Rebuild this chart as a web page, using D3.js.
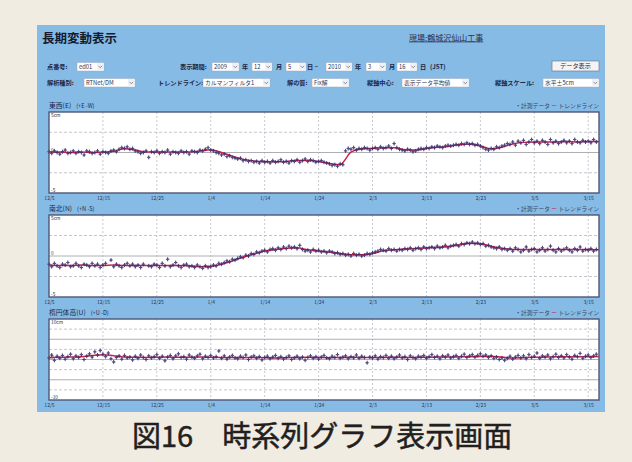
<!DOCTYPE html>
<html>
<head>
<meta charset="utf-8">
<script src="https://cdn.jsdelivr.net/npm/d3@7/dist/d3.min.js"></script>
<style>
  html, body { margin: 0; padding: 0; background: #f0ece2; }
  svg { display: block; }
  text { font-family: "Noto Sans CJK JP", "Noto Sans", sans-serif; }
</style>
</head>
<body>
<svg id="chart" width="632" height="462"></svg>
<script>
// ---- data ---------------------------------------------------------------
// Tick labels on the time axis (every 10 days)
const tickLabels = ["12/5","12/15","12/25","1/4","1/14","1/24","2/3","2/13","2/23","3/5","3/15"];

// Measured displacement (cm), one value every 12 hours from 2009-12-05 00:00
const eastWest = [
  0.1,-0.1,0.2,0.0,-0.2,0.1,0.3,-0.1,0.0,0.2,
  -0.1,0.1,0.0,-0.3,0.2,0.1,-0.1,0.0,0.2,-0.2,
  0.1,0.0,-0.1,0.2,0.3,0.1,0.4,0.6,0.5,0.7,
  0.4,0.5,0.2,0.1,-0.1,0.0,0.2,-0.6,0.1,0.0,
  0.2,-0.1,0.1,0.0,0.3,-0.2,0.1,0.0,-0.1,0.2,
  0.0,0.1,-0.2,0.2,0.1,0.0,0.3,0.2,0.4,0.6,
  0.3,0.2,0.0,-0.1,-0.3,-0.2,-0.5,-0.4,-0.6,-0.7,
  -0.8,-0.7,-1.0,-0.9,-1.1,-1.0,-1.2,-1.1,-1.3,-1.0,
  -1.2,-1.1,-1.3,-1.0,-1.2,-1.1,-0.9,-1.2,-1.1,-1.3,
  -1.0,-1.1,-0.9,-1.2,-1.0,-0.8,-1.1,-0.9,-1.0,-1.2,
  -1.1,-1.0,-1.2,-1.3,-1.4,-1.6,-1.5,-1.7,-1.4,-1.5,
  0.2,0.5,0.4,0.6,0.3,0.5,0.4,0.6,0.5,0.3,
  0.5,0.6,0.4,0.7,0.5,0.6,0.8,0.5,1.1,0.6,
  0.4,0.3,0.2,0.4,0.3,0.1,0.2,0.4,0.5,0.4,
  0.6,0.5,0.7,0.6,0.8,0.7,0.6,0.8,0.9,0.8,
  0.9,1.0,0.9,1.1,1.0,1.2,1.0,1.1,0.9,1.0,
  0.8,0.6,0.4,0.3,0.5,0.4,0.7,0.6,0.8,0.9,
  1.1,1.0,1.3,0.9,1.4,1.2,1.5,1.0,1.3,1.6,
  1.2,1.4,1.1,1.5,1.3,1.0,1.6,1.2,1.4,1.1,
  1.3,1.5,1.2,1.4,1.1,1.6,1.3,1.2,1.5,1.3,
  1.4,1.2,1.6,1.3
];
const northSouth = [
  -1.0,-1.3,-0.9,-1.2,-1.4,-1.0,-1.1,-0.8,-1.3,-1.2,
  -0.9,-1.2,-1.4,-1.0,-1.1,-1.3,-0.9,-1.2,-1.0,-1.4,
  -1.1,-0.9,null,-0.5,-1.3,-1.0,-1.2,-1.4,-1.1,-0.9,
  -1.2,-1.0,-1.3,-1.1,-1.4,-1.0,null,-1.2,-1.3,-1.0,
  -1.1,-1.4,-0.9,-1.2,-0.4,-1.3,-1.1,-0.8,-1.2,-1.4,
  -1.1,-1.0,-1.3,-1.2,-1.4,-1.1,-1.3,-1.5,-1.2,-1.4,
  -1.3,-1.1,-1.2,-0.9,-1.0,-0.8,-0.6,-0.7,-0.4,-0.5,
  -0.3,-0.1,-0.2,0.1,0.0,0.3,0.2,0.5,0.4,0.6,
  0.7,0.5,0.8,0.9,0.7,1.0,0.8,1.1,0.9,1.2,
  1.0,1.1,0.9,1.3,0.8,0.6,0.7,0.5,0.8,0.6,
  0.7,0.5,0.6,0.4,0.6,0.5,0.3,0.4,0.2,0.3,
  0.1,0.2,0.0,0.3,0.1,0.2,0.0,0.1,0.3,0.2,
  0.4,0.5,0.6,0.8,0.7,0.6,0.9,0.7,0.8,0.6,
  0.8,0.7,0.9,0.8,1.0,0.7,0.9,1.0,0.8,1.1,
  0.9,1.0,1.1,0.9,1.2,1.0,1.1,1.3,1.0,1.2,
  1.3,1.4,1.2,1.5,1.4,1.6,1.5,1.7,1.5,1.6,
  1.4,1.5,1.2,1.3,1.1,1.0,0.9,1.1,0.8,0.9,
  0.7,0.9,0.6,1.0,0.8,0.5,0.7,1.1,0.6,0.8,
  0.9,0.5,0.7,1.0,0.6,0.8,1.2,0.7,0.5,0.9,
  0.6,0.8,1.0,0.7,0.5,0.9,0.7,1.1,0.6,0.8,
  0.7,0.9,0.6,0.8
];
const upDown = [
  0.4,1.1,-0.2,0.8,0.3,1.0,0.1,0.7,1.3,0.2,
  0.9,0.5,1.2,0.0,0.8,1.4,0.6,1.9,1.1,2.2,
  1.3,0.7,1.6,0.2,-0.6,0.5,0.9,0.1,1.0,0.4,
  0.6,-0.1,0.8,0.3,1.1,0.5,0.0,0.9,0.4,0.7,
  1.2,0.3,0.8,-0.3,0.6,1.0,0.2,0.9,1.4,0.5,
  0.7,0.1,1.1,0.6,0.3,0.9,1.3,0.2,0.8,0.5,
  1.0,0.4,0.7,2.1,0.3,0.9,0.1,0.6,1.0,0.4,
  0.2,0.8,0.5,1.1,0.0,0.6,0.9,0.3,0.7,-0.1,
  0.5,0.8,0.2,0.6,1.0,0.3,0.7,0.1,0.5,0.9,
  0.0,0.4,0.8,0.2,0.6,-0.2,0.5,0.9,0.3,0.7,
  0.1,0.6,1.0,0.4,0.2,0.8,0.5,1.2,0.3,0.6,
  0.9,0.2,0.7,0.4,1.1,0.3,0.8,0.5,-0.8,0.6,
  0.4,0.9,0.1,0.7,0.5,1.0,0.3,0.8,0.2,0.6,
  1.1,0.4,0.7,0.0,0.9,0.5,0.2,0.8,0.6,1.0,
  0.3,0.7,1.2,0.5,0.8,0.2,0.9,0.6,1.1,0.4,
  0.7,1.0,0.3,0.8,1.3,0.5,0.9,1.2,0.6,1.0,
  1.4,0.8,1.1,0.5,0.9,0.3,0.6,0.0,0.4,-0.2,
  0.3,0.8,0.1,0.6,1.0,0.4,0.9,0.2,1.2,0.5,
  0.8,1.6,0.3,0.9,0.6,1.1,0.2,0.7,1.3,0.5,
  0.9,0.4,1.2,0.6,0.1,1.0,0.7,1.5,0.3,0.8,
  1.1,0.5,0.9,1.3
];

// Trend line (Kalman filter output), one value every 2 days from 2009-12-05
const trendEW = [
  0.05,0.05,0.0,0.05,0.0,0.05,0.15,0.45,0.3,0.05,
  0.05,0.05,0.05,0.05,0.2,0.35,0.0,-0.45,-0.85,-1.05,
  -1.15,-1.15,-1.1,-1.0,-1.0,-1.1,-1.35,-1.5,0.05,0.45,
  0.5,0.6,0.6,0.35,0.3,0.5,0.65,0.75,0.95,1.05,
  0.8,0.45,0.65,1.05,1.25,1.3,1.3,1.3,1.35,1.3,
  1.35,1.35
];
const trendNS = [
  -1.1,-1.15,-1.15,-1.1,-1.15,-1.15,-1.1,-1.15,-1.15,-1.15,
  -1.15,-1.15,-1.15,-1.2,-1.3,-1.25,-1.0,-0.6,-0.15,0.25,
  0.6,0.8,0.95,1.0,0.75,0.6,0.5,0.3,0.15,0.15,
  0.3,0.65,0.75,0.85,0.9,1.0,1.05,1.15,1.35,1.55,
  1.5,1.2,0.95,0.8,0.8,0.8,0.8,0.8,0.8,0.8,
  0.8,0.75
];
const trendUD = [
  0.5,0.55,0.6,0.7,1.0,1.2,0.9,0.6,0.55,0.5,
  0.55,0.6,0.55,0.55,0.6,0.55,0.5,0.5,0.45,0.5,
  0.45,0.4,0.45,0.5,0.55,0.5,0.45,0.5,0.55,0.5,
  0.5,0.5,0.55,0.5,0.5,0.55,0.6,0.6,0.65,0.7,
  0.75,0.8,0.6,0.35,0.45,0.55,0.6,0.65,0.7,0.7,
  0.7,0.75
];

// Panel titles, axis spans and printed scale labels
const panelTitles = ["東西(E)", "南北(N)", "楕円体高(U)"];
const panelSigns  = ["(+E -W)", "(+N -S)", "(+U -D)"];
const panelRanges = [5, 5, 10];
const panelTopLabels = ["5cm", "5cm", "10cm"];
const panelBottomLabels = ["-5", "-5", "-10"];

// ---- layout ---------------------------------------------------------------
const svg = d3.select("#chart");
const start = new Date(2009, 11, 5);
const end = new Date(2010, 2, 17);
const x = d3.scaleTime().domain([start, end]).range([49, 599]);
const tickDates = tickLabels.map(s => {
  const [m, d] = s.split("/").map(Number);
  return new Date(m >= 10 ? 2009 : 2010, m - 1, d);
});

const ink = "#1d2747";
const small = 6.2;

// outer blue window
svg.append("rect").attr("x", 37).attr("y", 25).attr("width", 568).attr("height", 387)
  .attr("fill", "#86bbe5");

// heading
svg.append("text").attr("x", 42).attr("y", 43).attr("font-size", 12.5)
  .attr("font-weight", 700).attr("fill", "#151b2e").text("長期変動表示");
svg.append("text").attr("x", 409).attr("y", 40.5).attr("font-size", 8)
  .attr("fill", "#26304f").attr("text-decoration", "underline").text("現場:鶴城沢仙山工事");

// form controls
function label(xp, yp, t) {
  svg.append("text").attr("x", xp).attr("y", yp).attr("font-size", small)
    .attr("font-weight", 700).attr("fill", ink).text(t);
}
function select(xp, yp, w, t) {
  const g = svg.append("g").attr("transform", `translate(${xp},${yp - 6.5})`);
  g.append("rect").attr("width", w).attr("height", 8.5).attr("fill", "#fff")
    .attr("stroke", "#9aaac0").attr("stroke-width", 0.5);
  g.append("rect").attr("x", w - 7).attr("y", 0.5).attr("width", 6.5).attr("height", 7.5)
    .attr("fill", "#eef1f6");
  g.append("path").attr("d", `M${w - 5.5},3.3L${w - 3.7},5.3L${w - 1.9},3.3`)
    .attr("fill", "none").attr("stroke", "#6b7896").attr("stroke-width", 0.8);
  g.append("text").attr("x", 2).attr("y", 6.3).attr("font-size", 5.8)
    .attr("fill", "#2a3350").text(t);
}

const r1 = 69, r2 = 85;
label(47, r1, "点番号:");
select(77, r1, 27, "ed01");
label(180, r1, "表示期間:");
select(212, r1, 27, "2009"); label(242, r1, "年");
select(252, r1, 20, "12");   label(276, r1, "月");
select(286, r1, 20, "5");    label(307, r1, "日 ~");
select(326, r1, 26, "2010"); label(355, r1, "年");
select(366, r1, 20, "3");    label(389, r1, "月");
select(397, r1, 20, "16");   label(420, r1, "日");
label(430, r1, "(JST)");
// data display button
const btn = svg.append("g").attr("transform", "translate(552,61)");
btn.append("rect").attr("width", 47).attr("height", 10).attr("fill", "#f4f4f4")
  .attr("stroke", "#6f7d99").attr("stroke-width", 0.7);
btn.append("text").attr("x", 23.5).attr("y", 7.3).attr("text-anchor", "middle")
  .attr("font-size", small).attr("fill", "#1d2336").text("データ表示");

label(47, r2, "解析種別:");
select(84, r2, 51, "RTNet/DM");
label(158, r2, "トレンドライン:");
select(203, r2, 67, "カルマンフィルタ1");
label(287, r2, "解の質:");
select(312, r2, 37, "Fix解");
label(367, r2, "縦軸中心:");
select(402, r2, 67, "表示データ平均値");
label(495, r2, "縦軸スケール:");
select(543, r2, 56, "水平±5cm");

// ---- time-series panels ------------------------------------------------------
const panels = [
  { top: 112, bottom: 193, values: eastWest,   trend: trendEW },
  { top: 215, bottom: 297, values: northSouth, trend: trendNS },
  { top: 319, bottom: 400, values: upDown,     trend: trendUD }
];

panels.forEach((p, k) => {
  const R = panelRanges[k];
  const y = d3.scaleLinear().domain([-R, R]).range([p.bottom, p.top]);
  const g = svg.append("g");

  // title and legend above the box
  const ty = p.top - 4.5;
  const title = g.append("text").attr("x", 49).attr("y", ty).attr("font-size", 6.8).attr("fill", ink);
  title.append("tspan").text(panelTitles[k]);
  title.append("tspan").attr("dx", 5).attr("font-size", 5.6).text(panelSigns[k]);

  const lg = g.append("text").attr("x", 599).attr("y", ty).attr("text-anchor", "end")
    .attr("font-size", 5.8);
  lg.append("tspan").attr("fill", "#2b2a66").text("・");
  lg.append("tspan").attr("fill", "#3a4560").text("計測データ  ");
  lg.append("tspan").attr("fill", "#c8203c").text("ー ");
  lg.append("tspan").attr("fill", "#3a4560").text("トレンドライン");

  // plotting area
  g.append("rect").attr("x", 49).attr("y", p.top).attr("width", 550).attr("height", p.bottom - p.top)
    .attr("fill", "#ffffff");

  // vertical grid
  g.selectAll(".vg").data(tickDates.slice(1)).join("line")
    .attr("x1", d => x(d)).attr("x2", d => x(d))
    .attr("y1", p.top).attr("y2", p.bottom)
    .attr("stroke", "#b9bcc4").attr("stroke-width", 0.8).attr("stroke-dasharray", "2,2");

  // horizontal grid
  const step = 2.5;
  const hv = d3.range(-R + step, R, step);
  g.selectAll(".hg").data(hv).join("line")
    .attr("x1", 49).attr("x2", 599)
    .attr("y1", d => y(d)).attr("y2", d => y(d))
    .attr("stroke", d => (Math.abs(d) % 5 === 0) ? "#a4a6ab" : "#b4b7bf")
    .attr("stroke-width", d => (Math.abs(d) % 5 === 0) ? 0.9 : 0.8)
    .attr("stroke-dasharray", d => (Math.abs(d) % 5 === 0) ? null : "3,2");

  // scale labels inside the box
  g.append("text").attr("x", 51).attr("y", p.top + 5).attr("font-size", 4.8).attr("fill", "#333").text(panelTopLabels[k]);
  g.append("text").attr("x", 51).attr("y", y(0) - 1).attr("font-size", 4.8).attr("fill", "#444").text("0");
  g.append("text").attr("x", 51).attr("y", p.bottom - 1.5).attr("font-size", 4.8).attr("fill", "#333").text(panelBottomLabels[k]);

  // trend line, drawn beneath the measured points
  const tr = p.trend.map((v, j) => ({ t: d3.timeDay.offset(start, 2 * j), v }));
  g.append("path").datum(tr)
    .attr("d", d3.line().x(d => Math.min(599, x(d.t))).y(d => y(d.v)).curve(d3.curveMonotoneX))
    .attr("fill", "none").attr("stroke", "#d42048").attr("stroke-width", 1.5);

  // measured points
  const pts = p.values.map((v, i) => ({ t: d3.timeHour.offset(start, 12 * i), v }))
    .filter(d => d.v !== null);
  const layer = g.append("g").attr("opacity", 0.88);
  layer.selectAll(".pt").data(pts).join("path")
    .attr("d", d => {
      const px = x(d.t), py = y(d.v);
      return `M${px - 1.7},${py}H${px + 1.7}M${px},${py - 2}V${py + 2}`;
    })
    .attr("stroke", "#2e2a68").attr("stroke-width", 1);
  layer.selectAll(".pd").data(pts).join("rect")
    .attr("x", d => x(d.t) - 0.8).attr("y", d => y(d.v) - 0.8)
    .attr("width", 1.6).attr("height", 1.6).attr("fill", "#3a3078");

  // box frame
  g.append("rect").attr("x", 49).attr("y", p.top).attr("width", 550).attr("height", p.bottom - p.top)
    .attr("fill", "none").attr("stroke", "#4f5675").attr("stroke-width", 1.4);

  // time axis labels
  const ax = g.append("g").attr("transform", `translate(0,${p.bottom + 1})`)
    .call(d3.axisBottom(x).tickValues(tickDates).tickSize(0).tickPadding(2)
      .tickFormat(d3.timeFormat("%-m/%-d")));
  ax.select(".domain").remove();
  ax.selectAll("text").attr("font-size", 5).attr("fill", "#2c3550")
    .attr("font-family", "\"Noto Sans CJK JP\", sans-serif");
});

// caption
svg.append("text").attr("x", 132).attr("y", 447).attr("font-size", 29)
  .attr("font-weight", 400).attr("fill", "#231f20")
  .attr("stroke", "#231f20").attr("stroke-width", 0.5)
  .text("図16　時系列グラフ表示画面");
</script>
</body>
</html>
